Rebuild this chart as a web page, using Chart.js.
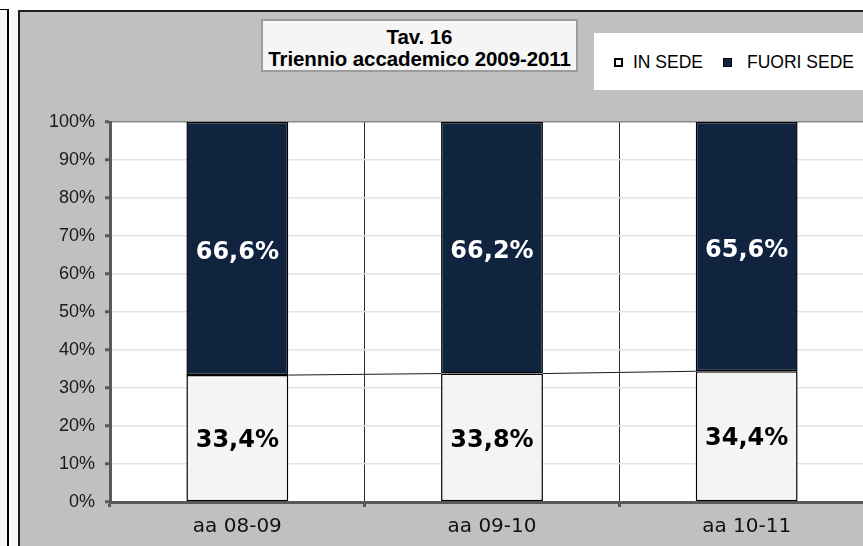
<!DOCTYPE html>
<html>
<head>
<meta charset="utf-8">
<script src="https://cdn.jsdelivr.net/npm/chart.js@4.4.1/dist/chart.umd.min.js"></script>
<style>
  html, body { margin:0; padding:0; background:#ffffff; width:863px; height:546px; overflow:hidden; }
  #wrap { position:relative; width:863px; height:546px; overflow:hidden; }
  #leftframe { position:absolute; left:-6px; top:9px; width:13px; height:600px; border-top:1px solid #000; border-right:2px solid #000; background:#f7f7f7; }
  #leftstrip { position:absolute; left:10px; top:10px; width:8px; height:600px; background:#f9f9f9; }
  #frame { position:absolute; left:18px; top:10px; width:900px; height:600px; border-left:2px solid #1e1e1e; border-top:2px solid #1e1e1e; background:#c0c0c0; }
  #c { position:absolute; left:0; top:0; }
  #titlebox { position:absolute; left:261px; top:19px; width:313px; height:44px; padding-top:5px; border:2px solid #9c9c9c; background:#f5f5f5;
    font-family:"Liberation Sans", Arial, sans-serif; font-weight:bold; font-size:20.5px; line-height:22px; text-align:center; color:#000; white-space:nowrap; letter-spacing:-0.1px; }
  #legend { position:absolute; left:594px; top:33px; width:320px; height:57px; background:#ffffff;
    font-family:"Liberation Sans", Arial, sans-serif; font-size:17.5px; color:#000; }
  .lg-box { position:absolute; top:25px; width:5px; height:5px; border:2px solid #000; }
  .lg-text { position:absolute; top:19px; line-height:20px; white-space:nowrap; }
</style>
</head>
<body>
<div id="wrap">
  <div id="leftframe"></div>
  <div id="leftstrip"></div>
  <div id="frame"></div>
  <canvas id="c" width="880" height="546"></canvas>
  <div id="titlebox"></div>
  <div id="legend"></div>
</div>
<script>
// ---- data ----
const titleLines = ['Tav. 16', 'Triennio accademico 2009-2011'];
const categories = ['aa 08-09', 'aa 09-10', 'aa 10-11'];
const seriesNames = ['IN SEDE', 'FUORI SEDE'];
const inSede = [33.4, 33.8, 34.4];
const fuoriSede = [66.6, 66.2, 65.6];
const yTickValues = [0, 10, 20, 30, 40, 50, 60, 70, 80, 90, 100];

const seriesColors = ['#f4f4f4', '#10233f'];
const labelColors = ['#000000', '#ffffff'];

// title box
document.getElementById('titlebox').innerHTML = titleLines.map(t => '<div>' + t + '</div>').join('');

// legend
const legendPos = [{box:20, text:39}, {box:129, text:153}];
const lg = document.getElementById('legend');
seriesNames.forEach((name, i) => {
  const b = document.createElement('div');
  b.className = 'lg-box';
  b.style.left = legendPos[i].box + 'px';
  b.style.background = i === 0 ? '#ffffff' : seriesColors[i];
  if (i === 1) { b.style.border = '1px solid #000'; b.style.width = '7px'; b.style.height = '7px'; }
  lg.appendChild(b);
  const t = document.createElement('div');
  t.className = 'lg-text';
  t.style.left = legendPos[i].text + 'px';
  t.textContent = name;
  lg.appendChild(t);
});

const fmt = v => v.toFixed(1).replace('.', ',') + '%';

const plotBg = {
  id: 'plotBg',
  beforeDraw(chart) {
    const {ctx, chartArea:a} = chart;
    ctx.save();
    ctx.fillStyle = '#ffffff';
    ctx.fillRect(a.left, a.top, a.right - a.left, a.bottom - a.top);
    ctx.restore();
  }
};

const extras = {
  id: 'extras',
  afterDatasetsDraw(chart) {
    const ctx = chart.ctx;
    // series lines between stacked tops of first series
    const m0 = chart.getDatasetMeta(0).data;
    ctx.save();
    ctx.strokeStyle = '#1a1a1a';
    ctx.lineWidth = 1;
    for (let i = 0; i < m0.length - 1; i++) {
      const a = m0[i], b = m0[i + 1];
      ctx.beginPath();
      ctx.moveTo(a.x + a.width / 2, a.y);
      ctx.lineTo(b.x - b.width / 2, b.y);
      ctx.stroke();
    }
    // data labels
    ctx.font = 'bold 24px "DejaVu Sans", Verdana, sans-serif';
    ctx.textAlign = 'center';
    ctx.textBaseline = 'middle';
    chart.data.datasets.forEach((ds, di) => {
      const meta = chart.getDatasetMeta(di);
      ctx.fillStyle = labelColors[di];
      meta.data.forEach((el, i) => {
        const cy = (el.y + el.base) / 2 + (di === 1 ? 4 : 3);
        ctx.fillText(fmt(ds.data[i]), el.x, cy);
      });
    });
    ctx.restore();
  }
};

new Chart(document.getElementById('c'), {
  type: 'bar',
  data: {
    labels: categories,
    datasets: [
      { label: seriesNames[0], data: inSede, backgroundColor: seriesColors[0], borderColor: '#000', borderWidth: 1.5, borderSkipped: false },
      { label: seriesNames[1], data: fuoriSede, backgroundColor: seriesColors[1], borderColor: '#000', borderWidth: 1.5, borderSkipped: false }
    ]
  },
  options: {
    responsive: false,
    animation: false,
    devicePixelRatio: 1,
    layout: { padding: { top: 122, right: 6, left: 0, bottom: 0 } },
    datasets: { bar: { categoryPercentage: 1, barPercentage: 0.4 } },
    plugins: { legend: { display: false }, title: { display: false }, tooltip: { enabled: false } },
    scales: {
      x: {
        stacked: true,
        afterFit(s) { s.height = 44; },
        grid: { offset: true, color: '#2a2a2a', lineWidth: 1, drawTicks: true, tickLength: 5, tickColor: '#595959', tickWidth: 3 },
        border: { color: '#595959', width: 3 },
        ticks: { color: '#111', padding: 8, font: { family: '"DejaVu Sans", Tahoma, sans-serif', size: 20 } }
      },
      y: {
        stacked: true,
        min: 0, max: 100,
        afterFit(s) { s.width = 110; },
        afterBuildTicks(s) { s.ticks = yTickValues.map(v => ({ value: v })); },
        grid: {
          color: c => (c.tick && c.tick.value === 100) ? '#8a8a8a' : '#e4e4e4',
          lineWidth: 1.5, drawTicks: true, tickLength: 5, tickColor: '#595959', tickWidth: 3
        },
        border: { color: '#595959', width: 3 },
        ticks: { color: '#1a1a1a', padding: 10, callback: v => v + '%', font: { family: '"Liberation Sans", Arial, sans-serif', size: 18 } }
      }
    }
  },
  plugins: [plotBg, extras]
});
</script>
</body>
</html>
